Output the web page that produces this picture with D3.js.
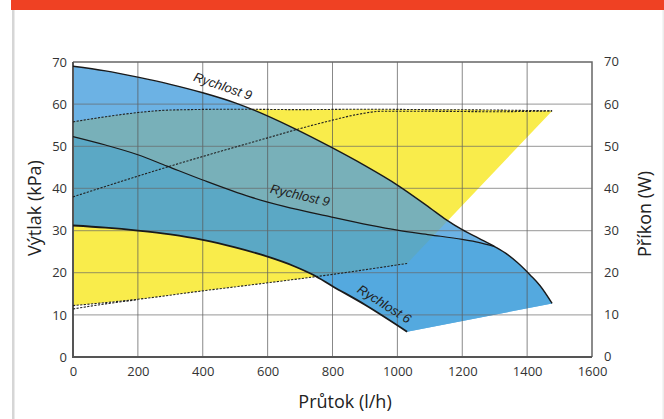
<!DOCTYPE html>
<head>
  <meta charset="utf-8">
  <title>pump curves</title>
  <style>
    body { margin: 0; background: #fff; }
    text { font-family: "Open Sans", sans-serif; }
  </style>
</head>

<script src="https://d3js.org/d3.v7.min.js"></script>

<div id="my_dataviz"></div>

<script>

  // tick labels
  const flowTicks = [0, 200, 400, 600, 800, 1000, 1200, 1400, 1600];
  const headTicks = [0, 10, 20, 30, 40, 50, 60, 70];

  // pressure curves [flow l/h, kPa]
  const topCurve = [[0,69],[100,67.9],[200,66.4],[300,64.7],[400,62.7],[500,60.3],[560,58.5],[680,54.3],[800,49.6],[900,45.4],[1000,40.8],[1100,35.4],[1150,32.6],[1200,30.2],[1250,28.2],[1300,26.2],[1340,24.3],[1370,22.4],[1410,19.4],[1440,16.9],[1477,12.7]];
  const midCurve = [[0,52.3],[100,50.3],[200,48],[290,45.3],[400,42],[546,38],[648,35.8],[792,33.3],[915,31.3],[1000,30.1],[1100,29],[1200,27.9],[1250,27.2],[1300,26.2]];
  const r6Curve = [[0,31.2],[100,30.7],[200,30],[300,29.1],[400,27.8],[500,26],[600,23.8],[680,21.6],[740,19.5],[800,16.8],[900,12.4],[1030,6]];
  const minLine = [[1030,6],[1477,12.7]];

  // power curves [flow l/h, W]
  const powerTop = [[0,55.8],[100,57],[200,58],[300,58.6],[500,58.8],[700,58.7],[900,58.8],[1100,58.7],[1300,58.6],[1477,58.4]];
  const powerMid = [[0,38],[150,41.7],[300,45.3],[450,48.7],[600,52],[700,54.2],[800,56.2],[880,57.6],[950,58.3],[1100,58.3],[1300,58.2],[1477,58.4]];
  const powerLow = [[0,12.2],[200,13.7],[400,15.7],[600,17.6],[800,19.6],[1030,22.2]];
  const powerLow2 = [[0,11.4],[100,12.6],[200,13.6]];
  const powerEdge = [[1477,58.4],[1030,22.2]];

  // labels [flow, kPa, angle]
  const labels = [
    {text: "Rychlost 9", x: 462, y: 64.3, a: 19},
    {text: "Rychlost 9", x: 700, y: 38.4, a: 13},
    {text: "Rychlost 6", x: 960, y: 12.6, a: 32}
  ];

  const W = 664, H = 419;
  const margin = {top: 62, right: 72, bottom: 62, left: 73},
      width = W - margin.left - margin.right,
      height = H - margin.top - margin.bottom;

  const root = d3.select("#my_dataviz")
    .append("svg")
      .attr("width", W)
      .attr("height", H);

  // card frame
  root.append("rect").attr("x", 11).attr("y", 0).attr("width", W - 11).attr("height", 10).attr("fill", "#ef4123");
  root.append("rect").attr("x", 12).attr("y", 10).attr("width", 2.5).attr("height", H - 10).attr("fill", "#d6d6d6");
  root.append("rect").attr("x", 662.5).attr("y", 10).attr("width", 1.5).attr("height", H - 10).attr("fill", "#ececec");

  const svg = root.append("g")
      .attr("transform", `translate(${margin.left},${margin.top})`);

  const x = d3.scaleLinear().domain([0, 1600]).range([0, width]);
  const y = d3.scaleLinear().domain([0, 70]).range([height, 0]);

  const line = d3.line()
      .x(d => x(d[0]))
      .y(d => y(d[1]))
      .curve(d3.curveMonotoneX);

  // join several segments into one closed shape
  function poly(...segs) {
    return segs.map((s, i) => i ? line(s).replace(/^M/, "L") : line(s)).join("") + "Z";
  }

  const yellowPath = poly(powerTop, powerEdge, powerLow.slice().reverse());
  const blueA = poly(topCurve, minLine.slice().reverse(), r6Curve.slice().reverse());
  const blueB = poly(midCurve, topCurve.filter(d => d[0] > 1300), minLine.slice().reverse(), r6Curve.slice().reverse());

  svg.append("clipPath").attr("id", "clipY")
    .append("path").attr("d", yellowPath);

  svg.append("path").attr("d", yellowPath).attr("fill", "#f9ec4b");

  svg.append("path").attr("d", blueA).attr("fill", "#6cb2e4");
  svg.append("path").attr("d", blueA).attr("fill", "#78b0b9").attr("clip-path", "url(#clipY)");
  svg.append("path").attr("d", blueB).attr("fill", "#54a9df");
  svg.append("path").attr("d", blueB).attr("fill", "#5ba8c5").attr("clip-path", "url(#clipY)");

  // grid
  svg.append("g")
    .selectAll("line")
    .data(flowTicks.slice(1, -1))
    .join("line")
      .attr("x1", d => x(d)).attr("x2", d => x(d))
      .attr("y1", 0).attr("y2", height)
      .attr("stroke", "#555").attr("stroke-opacity", 0.7).attr("stroke-width", 1);
  svg.append("g")
    .selectAll("line")
    .data(headTicks.slice(1, -1))
    .join("line")
      .attr("x1", 0).attr("x2", width)
      .attr("y1", d => y(d)).attr("y2", d => y(d))
      .attr("stroke", "#666").attr("stroke-opacity", 0.55).attr("stroke-width", 1.3);

  // frame
  svg.append("path")
    .attr("d", `M0,0H${width}V${height}`)
    .attr("fill", "none").attr("stroke", "#666").attr("stroke-width", 1.5);
  svg.append("path")
    .attr("d", `M0,0V${height}H${width}`)
    .attr("fill", "none").attr("stroke", "#555").attr("stroke-width", 2);

  // power curves (dashed)
  [powerTop, powerMid, powerLow, powerLow2].forEach(d => {
    svg.append("path").attr("d", line(d))
      .attr("fill", "none").attr("stroke", "#222").attr("stroke-width", 1.1)
      .attr("stroke-dasharray", "2.2,1.4");
  });

  // pressure curves
  svg.append("path").attr("d", line(topCurve))
    .attr("fill", "none").attr("stroke", "#1a1a1a").attr("stroke-width", 1.4);
  svg.append("path").attr("d", line(midCurve))
    .attr("fill", "none").attr("stroke", "#1a1a1a").attr("stroke-width", 1.2);
  svg.append("path").attr("d", line(r6Curve))
    .attr("fill", "none").attr("stroke", "#1a1a1a").attr("stroke-width", 1.8);

  // curve labels
  svg.append("g")
    .selectAll("text")
    .data(labels)
    .join("text")
      .attr("transform", d => `translate(${x(d.x)},${y(d.y)}) rotate(${d.a})`)
      .attr("text-anchor", "middle")
      .attr("dy", "0.35em")
      .style("font-family", "'Liberation Sans', Arial, sans-serif")
      .style("font-style", "italic")
      .style("font-size", "13px")
      .attr("fill", "#222")
      .text(d => d.text);

  // axes
  const fmt = d3.format("d");
  const axL = svg.append("g")
    .call(d3.axisLeft(y).tickValues(headTicks).tickFormat(fmt).tickSize(0).tickPadding(6));
  const axR = svg.append("g")
    .attr("transform", `translate(${width},0)`)
    .call(d3.axisRight(y).tickValues(headTicks).tickFormat(fmt).tickSize(0).tickPadding(12));
  const axB = svg.append("g")
    .attr("transform", `translate(0,${height})`)
    .call(d3.axisBottom(x).tickValues(flowTicks).tickFormat(fmt).tickSize(0).tickPadding(10));
  [axL, axR, axB].forEach(a => {
    a.select(".domain").remove();
    a.selectAll("text")
      .style("font-family", "'Open Sans', sans-serif")
      .style("font-size", "13px")
      .attr("fill", "#333");
  });
  axR.selectAll("text").attr("dy", "0.3em");

  // axis titles
  root.append("text")
    .attr("transform", "translate(41,208) rotate(-90)")
    .attr("text-anchor", "middle")
    .style("font-size", "18px").attr("fill", "#222")
    .text("Výtlak (kPa)");
  root.append("text")
    .attr("transform", "translate(651,214) rotate(-90)")
    .attr("text-anchor", "middle")
    .style("font-size", "18px").attr("fill", "#222")
    .text("Příkon (W)");
  root.append("text")
    .attr("x", 345).attr("y", 408)
    .attr("text-anchor", "middle")
    .style("font-size", "18px").attr("fill", "#222")
    .text("Průtok (l/h)");

</script>
